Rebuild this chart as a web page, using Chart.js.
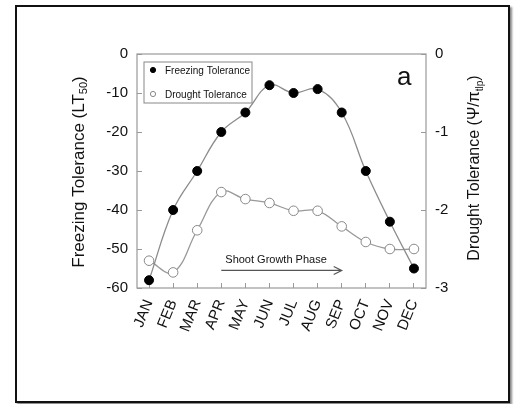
<!DOCTYPE html>
<html>
<head>
<meta charset="utf-8">
<script src="https://cdn.jsdelivr.net/npm/chart.js@4"></script>
<style>
html, body { margin: 0; padding: 0; background: #fff; }
#frame { position: absolute; left: 15px; top: 5px; width: 491px; height: 394px; border: 2px solid #111; box-shadow: 2px 2px 2px #888; }
#wrap { position: absolute; left: 0; top: 0; width: 514px; height: 404px; }
</style>
</head>
<body>
<div id="frame"></div>
<div id="wrap"><canvas id="chart" width="514" height="404"></canvas></div>
<script>
const months = ["JAN", "FEB", "MAR", "APR", "MAY", "JUN", "JUL", "AUG", "SEP", "OCT", "NOV", "DEC"];
// LT50, left axis
const freezing = [-58, -40, -30, -20, -15, -8, -10, -9, -15, -30, -43, -55];
// psi / pi_tlp, right axis
const drought = [-2.65, -2.8, -2.26, -1.77, -1.86, -1.91, -2.01, -2.01, -2.21, -2.41, -2.5, -2.5];

const phaseLabel = "Shoot Growth Phase";
const phaseSpan = ["APR", "SEP"];
const phaseLevel = -55.5;

const FONT = "Arial, 'Liberation Sans', sans-serif";

function drawTitle(ctx, cx, cy, parts) {
    ctx.save();
    ctx.translate(cx, cy);
    ctx.rotate(-Math.PI / 2);
    ctx.textBaseline = "middle";
    ctx.textAlign = "left";
    ctx.fillStyle = "#111";
    let total = 0;
    parts.forEach(p => {
        ctx.font = p.size + "px " + FONT;
        p.w = ctx.measureText(p.t).width;
        total += p.w;
    });
    let x = -total / 2;
    parts.forEach(p => {
        ctx.font = p.size + "px " + FONT;
        ctx.fillText(p.t, x, p.sub ? 5 : 0);
        x += p.w;
    });
    ctx.restore();
}

const extras = {
    id: "extras",
    afterDraw(chart) {
        const ctx = chart.ctx;
        const area = chart.chartArea;
        const x = chart.scales.x;
        const y = chart.scales.y;

        ctx.save();
        // plot box
        ctx.strokeStyle = "#999";
        ctx.lineWidth = 1.2;
        ctx.strokeRect(area.left, area.top, area.right - area.left, area.bottom - area.top);

        // legend, boxed, top-left inside the plot
        const lx = area.left + 7, ly = area.top + 8;
        ctx.fillStyle = "#fff";
        ctx.fillRect(lx, ly, 108, 41);
        ctx.strokeStyle = "#888";
        ctx.lineWidth = 1;
        ctx.strokeRect(lx, ly, 108, 41);
        ctx.font = "10px " + FONT;
        ctx.textAlign = "left";
        ctx.textBaseline = "middle";
        chart.data.datasets.forEach((ds, i) => {
            const cy = ly + 8 + i * 24;
            ctx.beginPath();
            ctx.arc(lx + 9, cy, 2.6, 0, Math.PI * 2);
            ctx.fillStyle = ds.pointBackgroundColor;
            ctx.fill();
            ctx.strokeStyle = ds.pointBorderColor;
            ctx.stroke();
            ctx.fillStyle = "#111";
            ctx.fillText(ds.label, lx + 21, cy + 1);
        });

        // panel letter
        ctx.fillStyle = "#111";
        ctx.font = "26px " + FONT;
        ctx.textBaseline = "alphabetic";
        ctx.fillText("a", area.right - 29, area.top + 31);

        // shoot growth arrow
        const x0 = x.getPixelForValue(months.indexOf(phaseSpan[0]));
        const x1 = x.getPixelForValue(months.indexOf(phaseSpan[1]));
        const yl = y.getPixelForValue(phaseLevel);
        ctx.strokeStyle = "#555";
        ctx.lineWidth = 1.2;
        ctx.beginPath();
        ctx.moveTo(x0, yl);
        ctx.lineTo(x1, yl);
        ctx.moveTo(x1 - 8, yl - 4);
        ctx.lineTo(x1, yl);
        ctx.lineTo(x1 - 8, yl + 4);
        ctx.stroke();
        ctx.font = "11px " + FONT;
        ctx.fillText(phaseLabel, x0 + 4, yl - 7);
        ctx.restore();

        // axis titles
        drawTitle(ctx, 79, (area.top + area.bottom) / 2 + 1, [
            {t: "Freezing Tolerance (LT", size: 17},
            {t: "50", size: 11, sub: true},
            {t: ")", size: 17}
        ]);
        drawTitle(ctx, 475, (area.top + area.bottom) / 2 - 3, [
            {t: "Drought Tolerance (\u03A8/\u03C0", size: 16},
            {t: "tlp", size: 10, sub: true},
            {t: ")", size: 16}
        ]);
    }
};

new Chart(document.getElementById("chart").getContext("2d"), {
    type: "line",
    data: {
        labels: months,
        datasets: [{
            label: "Freezing Tolerance",
            data: freezing,
            yAxisID: "y",
            borderColor: "#8c8c8c",
            borderWidth: 1.3,
            tension: 0.4,
            pointRadius: 4.5,
            pointBackgroundColor: "#000",
            pointBorderColor: "#000",
            pointBorderWidth: 1
        }, {
            label: "Drought Tolerance",
            data: drought,
            yAxisID: "y1",
            borderColor: "#999",
            borderWidth: 1.3,
            tension: 0.4,
            pointRadius: 4.8,
            pointBackgroundColor: "#fff",
            pointBorderColor: "#888",
            pointBorderWidth: 1
        }]
    },
    options: {
        responsive: false,
        animation: false,
        layout: { padding: { top: 54, left: 0, right: 0, bottom: 0 } },
        plugins: {
            tooltip: { enabled: false },
            legend: { display: false }
        },
        scales: {
            x: {
                offset: true,
                border: { display: false },
                grid: { display: true, drawOnChartArea: false, drawTicks: true, tickLength: -5, color: "#999" },
                ticks: { minRotation: 68, maxRotation: 68, padding: 14, color: "#111", font: { family: FONT, size: 15 } },
                afterFit: s => { s.height = 116; }
            },
            y: {
                position: "left",
                min: -60,
                max: 0,
                border: { display: false },
                grid: { display: true, drawOnChartArea: false, drawTicks: true, tickLength: -5, color: "#999" },
                ticks: { stepSize: 10, padding: 14, color: "#111", font: { family: FONT, size: 15 } },
                afterFit: s => { s.width = 137; }
            },
            y1: {
                position: "right",
                min: -3,
                max: 0,
                border: { display: false },
                grid: { display: true, drawOnChartArea: false, drawTicks: true, tickLength: -5, color: "#999" },
                ticks: { stepSize: 1, padding: 14, color: "#111", font: { family: FONT, size: 15 } },
                afterFit: s => { s.width = 88; }
            }
        }
    },
    plugins: [extras]
});
</script>
</body>
</html>
